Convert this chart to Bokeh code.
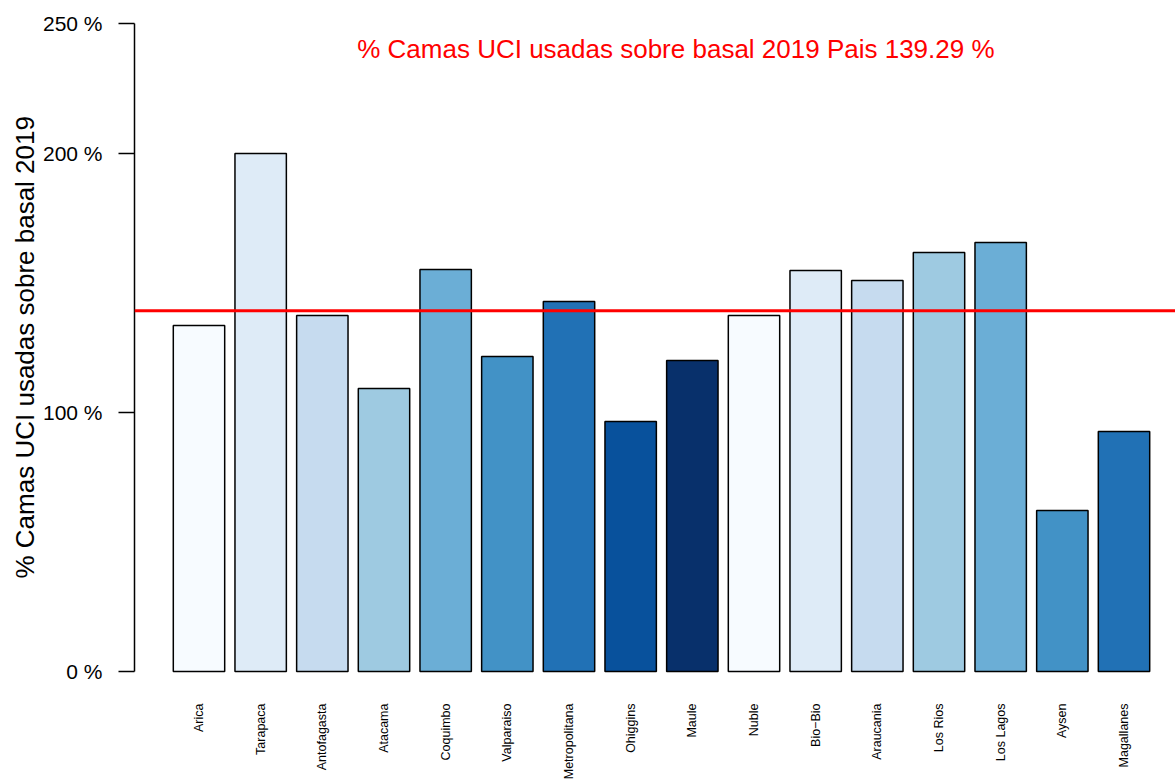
from math import pi
from bokeh.plotting import figure
from bokeh.models import ColumnDataSource, Range1d, FixedTicker, Span, Label, Title
from bokeh.core.properties import value
from bokeh.embed import file_html
from bokeh.resources import INLINE

regions = ["Arica", "Tarapaca", "Antofagasta", "Atacama", "Coquimbo", "Valparaiso",
           "Metropolitana", "Ohiggins", "Maule", "Nuble", "Bio\u2212Bio", "Araucania",
           "Los Rios", "Los Lagos", "Aysen", "Magallanes"]
values = [133.6, 200.0, 137.5, 109.3, 155.2, 121.6, 142.9, 96.5, 120.1, 137.5,
          154.8, 151.0, 161.8, 165.6, 62.2, 92.7]
colors = ["#F7FBFF", "#DEEBF7", "#C6DBEF", "#9ECAE1", "#6BAED6", "#4292C6", "#2171B5",
          "#08519C", "#08306B", "#F7FBFF", "#DEEBF7", "#C6DBEF", "#9ECAE1", "#6BAED6",
          "#4292C6", "#2171B5"]
pais = 139.29
y_ticks = [0, 100, 200, 250]
y_tick_labels = ["0 %", "100 %", "200 %", "250 %"]
y_label = "% Camas UCI usadas sobre basal 2019"

FONT = "Liberation Sans"

centers = [0.7 + 1.2 * i for i in range(len(regions))]
src = ColumnDataSource(dict(x=centers, top=values, color=colors, name=regions,
                            ly=[-12.36] * len(regions)))

p = figure(width=1175, height=781, output_backend="svg", toolbar_location=None,
           x_range=Range1d(-0.555, 19.702), y_range=Range1d(-42.47, 254.44),
           min_border_left=134, min_border_right=0, min_border_top=12,
           min_border_bottom=0)
p.outline_line_color = None
p.xgrid.visible = False
p.ygrid.visible = False
p.xaxis.visible = False

p.vbar(x="x", top="top", bottom=0, width=1.0, source=src, fill_color="color",
       line_color="black", line_width=1.5)

p.text(x="x", y="ly", text="name", source=src, angle=pi / 2,
       text_align="right", text_baseline="middle",
       text_font=value(FONT), text_font_size="12.5px", text_color="black")

p.add_layout(Span(location=pais, dimension="width", line_color="#FF0000", line_width=3))

ax = p.yaxis[0]
ax.bounds = (0, 250)
ax.ticker = FixedTicker(ticks=y_ticks, minor_ticks=[])
ax.major_label_overrides = {t: l for t, l in zip(y_ticks, y_tick_labels)}
ax.major_tick_out = 16
ax.major_tick_in = 0
ax.minor_tick_out = 0
ax.minor_tick_in = 0
ax.major_label_standoff = 16
ax.major_label_text_font = FONT
ax.major_label_text_font_size = "21px"
ax.major_label_text_color = "black"
ax.axis_line_color = "black"
ax.axis_line_width = 1.5
ax.major_tick_line_color = "black"
ax.major_tick_line_width = 1.5

ytitle = Title(text=y_label, align="left", offset=203, text_font=FONT,
               text_font_size="26px", text_font_style="normal", text_color="black",
               standoff=0)
p.add_layout(ytitle, "left")

title_text = "% Camas UCI usadas sobre basal 2019 Pais " + "{:.2f}".format(pais) + " %"
p.add_layout(Label(x=9.98, y=240.2, text=title_text,
                   text_align="center", text_baseline="middle", text_font=FONT,
                   text_font_size="26px", text_color="#FF0000"))

open("out.html", "w").write(file_html(p, INLINE))
